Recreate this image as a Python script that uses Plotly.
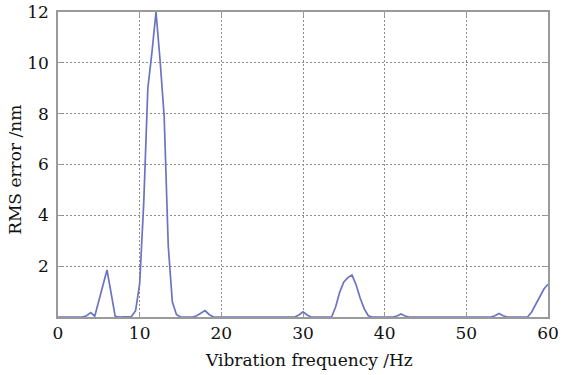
import plotly.graph_objects as go

# frequency samples every 0.5 Hz, 0 .. 60 Hz
freq = [i * 0.5 for i in range(121)]
# RMS error (nm); each row covers 5 Hz (10 samples)
rms = (
    [0, 0, 0, 0, 0, 0, 0, 0.05, 0.17, 0.03]            # 0 - 4.5
    + [0.6, 1.22, 1.85, 0.95, 0.03, 0, 0, 0, 0.02, 0.25]  # 5 - 9.5
    + [1.3, 4.5, 9.0, 10.4, 12.0, 10.1, 7.9, 2.8, 0.6, 0.1]  # 10 - 14.5
    + [0, 0, 0, 0, 0.05, 0.15, 0.25, 0.1, 0.01, 0]      # 15 - 19.5
    + [0, 0, 0, 0, 0, 0, 0, 0, 0, 0]                    # 20 - 24.5
    + [0, 0, 0, 0, 0, 0, 0, 0, 0, 0.08]                 # 25 - 29.5
    + [0.2, 0.08, 0, 0, 0, 0, 0, 0, 0.4, 0.98]          # 30 - 34.5
    + [1.38, 1.55, 1.65, 1.27, 0.75, 0.32, 0.05, 0, 0, 0]  # 35 - 39.5
    + [0, 0, 0, 0.04, 0.12, 0.04, 0, 0, 0, 0]           # 40 - 44.5
    + [0, 0, 0, 0, 0, 0, 0, 0, 0, 0]                    # 45 - 49.5
    + [0, 0, 0, 0, 0, 0, 0, 0.05, 0.14, 0.05]           # 50 - 54.5
    + [0, 0, 0, 0, 0, 0, 0.2, 0.5, 0.85, 1.1]           # 55 - 59.5
    + [1.29]                                            # 60
)

x_ticks = [0, 10, 20, 30, 40, 50, 60]
y_ticks = [2, 4, 6, 8, 10, 12]
x_title = "Vibration frequency /Hz"
y_title = "RMS error /nm"

font_family = "DejaVu Serif"

fig = go.Figure()
fig.add_trace(go.Scatter(
    x=freq, y=rms, mode="lines",
    line=dict(color="#6b73c3", width=1.7),
    cliponaxis=False,
    showlegend=False,
))

axis_common = dict(
    showline=True, linecolor="#9a9a9a", linewidth=1.5, mirror="ticks",
    ticks="inside", ticklen=4, tickcolor="#9a9a9a", tickwidth=1,
    showgrid=True, gridcolor="#8c8c8c", gridwidth=1, griddash="2px,2px",
    zeroline=False, automargin=False,
    tickfont=dict(family=font_family, size=17, color="#111111"),
)

fig.update_xaxes(range=[0, 60], tickvals=x_ticks, **axis_common)
fig.update_yaxes(range=[0, 12], tickvals=y_ticks, ticklabelstandoff=4, **axis_common)

fig.add_annotation(text=x_title, xref="paper", yref="paper", x=0.512, y=-0.141,
                   xanchor="center", yanchor="middle", showarrow=False,
                   font=dict(family=font_family, size=17, color="#111111"))
fig.add_annotation(text=y_title, xref="paper", yref="paper", x=-0.088, y=0.482,
                   xanchor="center", yanchor="middle", showarrow=False, textangle=-90,
                   font=dict(family=font_family, size=17, color="#111111"))

fig.update_layout(
    width=566, height=375,
    margin=dict(l=58, r=18, t=12, b=58),
    paper_bgcolor="white", plot_bgcolor="white",
)

# remove the browser's default page margin so the figure sits at the window origin
fig.write_html("out.html", config={"displayModeBar": False},
               post_script="document.body.style.margin='0';")
